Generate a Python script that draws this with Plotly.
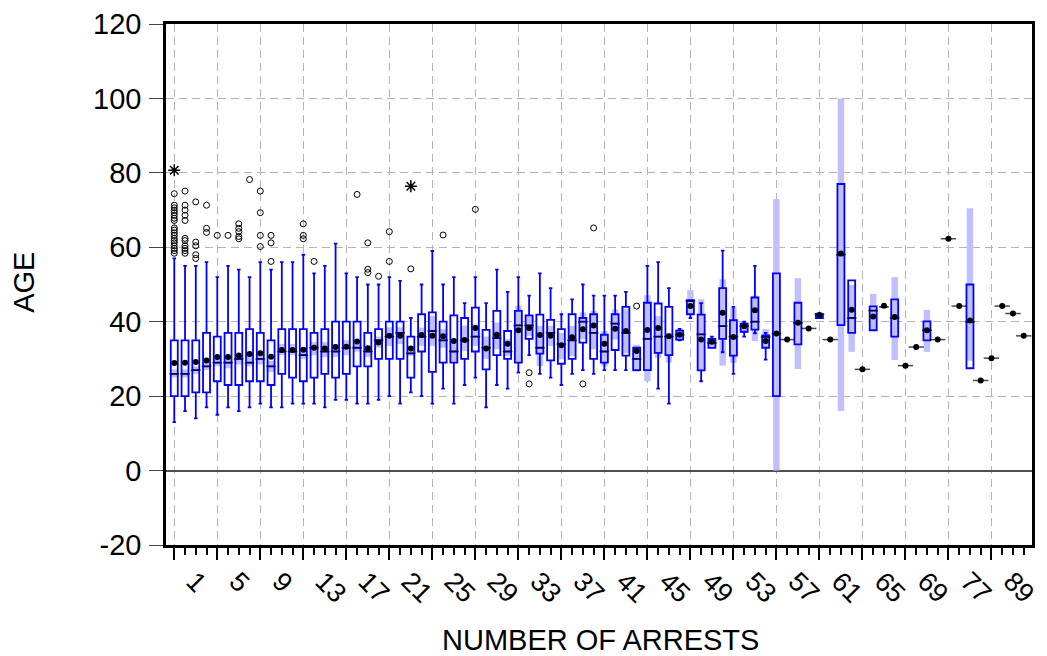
import plotly.graph_objects as go

# ---------------- data ----------------
categories = ["1", "2", "3", "4", "5", "6", "7", "8", "9", "10",
              "11", "12", "13", "14", "15", "16", "17", "18", "19", "20",
              "21", "22", "23", "24", "25", "26", "27", "28", "29", "30",
              "31", "32", "33", "34", "35", "36", "37", "38", "39", "40",
              "41", "42", "43", "44", "45", "46", "47", "48", "49", "50",
              "51", "52", "53", "54", "55", "56", "57", "58", "59", "60",
              "61", "62", "63", "64", "65", "66", "67", "68", "69", "70",
              "71", "73", "77", "78", "80", "84", "89", "90", "92", "98"]

whisker_low = [13, 16, 14, 17, 15, 17, 16, 17, 18, 17,
               17, 18, 18, 18, 17, 19, 19, 18, 18, 19,
               20, 18, 21, 20, 18, 22, 18, 23, 25, 17,
               23, 22, 26.3, 31, 26, 25, 23, 26, 27, 26,
               27, 27, 27, 27, 27, 22, 18, 35, 41, 24,
               33, 31.8, 26, 36, 36.9, 29.8, 20, 35.2, 33.9, 38.2,
               41, 35.2, 39.1, 37, 27.2, 37.7, 44, 36, 28.2, 33.2,
               35, 35.2, 62.3, 44.2, 27.5, 24.2, 30.2, 44.2, 42.2, 36.2]
q1 = [20, 20, 21, 21, 24, 23, 23, 24, 24, 23,
      26, 25, 24, 25, 26, 25, 26, 28, 28, 30,
      30, 30, 25, 32, 26.5, 29, 29, 30, 32, 27.2,
      31, 30, 29, 35.4, 31.4, 29.6, 28.7, 30, 34.4, 30,
      29, 32.4, 30.9, 27, 27, 31.6, 31, 35.2, 42, 26.9,
      33, 35.4, 30.9, 37.3, 37.9, 33, 20, 35.2, 33.9, 38.2,
      41, 35.2, 39.1, 37, 27.2, 37.7, 44, 36, 28.2, 33.2,
      35, 35.2, 62.3, 44.2, 27.5, 24.2, 30.2, 44.2, 42.2, 36.2]
median = [26, 26, 27, 28, 29, 29, 30, 29, 30, 28,
          32, 32, 31, 33, 32, 32, 33, 33, 32, 35,
          36, 37, 31.5, 36, 37.5, 35, 32, 35, 36, 33,
          35.6, 32, 39, 39, 33, 37, 34, 35, 40, 37,
          32, 39.5, 37, 30, 35.4, 36, 36, 36.5, 45.6, 36.6,
          34.3, 38.8, 36, 38.8, 40, 35.9, 36.8, 35.2, 39.7, 38.2,
          42, 35.2, 58, 41, 27.2, 43, 44, 41, 28.2, 33.2,
          37.7, 35.2, 62.3, 44.2, 40, 24.2, 30.2, 44.2, 42.2, 36.2]
q3 = [35, 35, 35, 37, 36, 37, 37, 38, 37, 35,
      38, 38, 38, 37, 38, 40, 40, 40, 37, 38,
      40, 40, 36, 42, 42.5, 40, 41.7, 41, 43.8, 37.8,
      42.9, 37.5, 42.9, 41.7, 41.9, 40.5, 38, 42, 41, 42,
      36.5, 42, 44, 33, 45.1, 44.9, 44, 37.6, 45.8, 41.9,
      35.4, 49, 40.4, 39.5, 46.5, 36.3, 53, 35.2, 45.1, 38.2,
      42, 35.2, 77, 51.1, 27.2, 44.1, 44, 46, 28.2, 33.2,
      40.1, 35.2, 62.3, 44.2, 50, 24.2, 30.2, 44.2, 42.2, 36.2]
whisker_high = [57, 55, 55, 56, 52, 55, 54, 52, 56, 54,
                56, 56, 58, 53, 55, 61, 53, 52, 50, 50,
                52, 51, 41, 50, 59, 50, 52, 45, 52, 45,
                54, 48, 52, 47, 53, 49, 42, 46, 50, 47,
                47, 47, 48, 33, 55, 56, 49, 38.1, 45.8, 45,
                36, 59.1, 44, 40, 55, 37, 53, 35.2, 45.1, 38.2,
                42, 35.2, 77, 51.1, 27.2, 44.1, 44, 46, 28.2, 33.2,
                40.1, 35.2, 62.3, 44.2, 50, 24.2, 30.2, 44.2, 42.2, 36.2]
mean = [28.9, 29.0, 29.2, 29.6, 30.5, 30.5, 30.9, 31.3, 31.5, 30.6,
        32.4, 32.4, 32.5, 33.0, 32.8, 33.2, 33.3, 34.7, 32.9, 34.4,
        36.2, 36.2, 32.8, 36.4, 36.2, 36.1, 34.8, 35.1, 38.3, 32.8,
        36.5, 34.1, 37.7, 38.3, 36.4, 36.2, 33.7, 35.8, 38.0, 39.0,
        34.1, 38.1, 37.5, 32.1, 37.8, 38.3, 36.1, 36.5, 44.2, 35.2,
        34.6, 42.4, 35.9, 38.8, 43.1, 34.8, 36.8, 35.2, 39.7, 38.2,
        41.8, 35.2, 58.3, 43.2, 27.2, 41.4, 44.3, 41.3, 28.2, 33.2,
        37.7, 35.2, 62.3, 44.2, 40.3, 24.2, 30.2, 44.2, 42.2, 36.2]
median_ci_low = [25, 25, 26, 27, 28, 27.5, 28.5, 28, 28.5, 26.5,
                 31, 31, 30, 31, 30.5, 30.5, 31, 32, 30.5, 33,
                 33.5, 34, 30.8, 33.5, 33.5, 33, 29, 32.1, 33.5, 30,
                 32.6, 30.8, 29, 36.2, 28.1, 33.5, 29.9, 30.8, 35.3, 32.6,
                 28, 35.2, 31.5, 26.5, 24, 30.3, 29, 34.9, 42, 27,
                 33.5, 28.2, 28.9, 37, 34.8, 33, 0, 35.2, 27.3, 38.2,
                 40.7, 35.2, 16, 31.9, 27.2, 37.6, 44, 29.7, 28.2, 33.2,
                 31.9, 35.2, 62.3, 44.2, 29.5, 24.2, 30.2, 44.2, 42.2, 36.2]
median_ci_high = [27.2, 27.2, 28, 29, 30, 30.5, 31, 31, 31.5, 29.5,
                  34, 34, 33, 34.5, 34.5, 34, 35, 35, 33.5, 36,
                  38.5, 38.5, 33.5, 38.4, 41.6, 38, 35.3, 39, 39.3, 36,
                  39.8, 35.3, 44.3, 41.6, 38.9, 38.9, 37, 38.9, 42.5, 42.9,
                  37.5, 43.3, 43.5, 33.8, 47.1, 41.5, 37, 38, 48.5, 46,
                  35.8, 51.4, 43.8, 40, 47, 38, 73, 35.2, 51.7, 38.2,
                  42.6, 35.2, 100, 49.9, 27.2, 47.5, 44, 52, 28.2, 33.2,
                  43.2, 35.2, 62.3, 44.2, 70.5, 24.2, 30.2, 44.2, 42.2, 36.2]

near_outlier_cat = ["1"] * 19 + ["2"] * 11 + ["3"] * 5 + ["4"] * 3 + ["5", "6"] + ["7"] * 5 + ["8"] + \
                   ["9"] * 4 + ["10"] * 3 + ["13"] * 3 + ["14", "18"] + ["19"] * 3 + ["20", "21", "21", "23", "26", "29",
                   "34", "34", "39", "40", "44"]
near_outlier_age = [58.4, 59.1, 59.7, 60.4, 61.2, 61.8, 62.4, 63.2, 63.9, 64.6,
                    65.2, 67.2, 67.8, 68.6, 69.3, 69.9, 70.6, 71.3, 74.4,
                    58.4, 59.1, 59.7, 60.4, 61.8, 62.4, 67.2, 68.6, 70.0, 71.3, 75.1,
                    57.0, 58.0, 60.4, 61.4, 72.2,
                    64.0, 65.1, 71.3,
                    63.2, 63.2,
                    62.3, 62.9, 64.2, 65.1, 66.3,
                    78.2,
                    60.2, 63.2, 69.3, 75.1,
                    56.2, 61.2, 63.2,
                    62.3, 63.2, 66.3,
                    56.2, 74.2,
                    53.2, 54.1, 61.2,
                    52.2, 56.2, 64.2, 54.2, 63.3, 70.2,
                    26.3, 23.3, 23.3, 65.2, 44.2]
far_outlier_cat = ["1", "23"]
far_outlier_age = [80.7, 76.4]

y_tickvals = [-20, 0, 20, 40, 60, 80, 100, 120]
y_ticktext = ["-20", "0", "20", "40", "60", "80", "100", "120"]
tick_every = 4

# ---------------- derived positions ----------------
pos = list(range(len(categories)))
is_box = [not (whisker_low[i] == whisker_high[i] == q1[i] == q3[i] and mean[i] == median[i]) for i in pos]
box_pos = [i for i in pos if is_box[i]]
ci_pos = [i for i in pos if median_ci_high[i] > median_ci_low[i]]

BLUE = "#0000FF"
BAND = "#C0C0FF"
BOX_W = 0.65
FONT = "Liberation Sans, Arial, sans-serif"

fig = go.Figure()

# white box interior
fig.add_trace(go.Bar(
    x=box_pos, base=[q1[i] for i in box_pos], y=[q3[i] - q1[i] for i in box_pos],
    width=BOX_W, marker=dict(color="white", line=dict(width=0)), hoverinfo="skip",
    showlegend=False))
# median confidence band
fig.add_trace(go.Bar(
    x=ci_pos, base=[median_ci_low[i] for i in ci_pos],
    y=[median_ci_high[i] - median_ci_low[i] for i in ci_pos],
    width=0.6, marker=dict(color=BAND, line=dict(width=0)), hoverinfo="skip",
    showlegend=False))
# boxes + whiskers
fig.add_trace(go.Box(
    x=box_pos,
    q1=[q1[i] for i in box_pos], median=[median[i] for i in box_pos], q3=[q3[i] for i in box_pos],
    lowerfence=[whisker_low[i] for i in box_pos], upperfence=[whisker_high[i] for i in box_pos],
    width=BOX_W, whiskerwidth=0.5, fillcolor="rgba(0,0,0,0)",
    line=dict(color=BLUE, width=1.8), boxpoints=False, showlegend=False, hoverinfo="skip"))
# medians (black)
fig.add_trace(go.Scatter(
    x=pos, y=median, mode="markers",
    marker=dict(symbol="line-ew", size=[7 if b else 11 for b in is_box],
                line=dict(color="black", width=1.5)),
    showlegend=False, hoverinfo="skip"))
# means
fig.add_trace(go.Scatter(
    x=pos, y=mean, mode="markers",
    marker=dict(symbol="circle", size=6, color="black"),
    showlegend=False, hoverinfo="skip"))
# near outliers
fig.add_trace(go.Scatter(
    x=[categories.index(c) for c in near_outlier_cat], y=near_outlier_age, mode="markers",
    marker=dict(symbol="circle-open", size=6, color="black", line=dict(width=1)),
    showlegend=False, hoverinfo="skip"))
# far outliers
fig.add_trace(go.Scatter(
    x=[categories.index(c) for c in far_outlier_cat], y=far_outlier_age, mode="markers",
    marker=dict(symbol="asterisk-open", size=10, color="black", line=dict(width=1.5, color="black")),
    showlegend=False, hoverinfo="skip"))

tickvals = pos[::tick_every]
ticktext = [categories[i] for i in tickvals]

fig.update_layout(
    width=1047, height=656,
    margin=dict(l=166, r=7, t=24, b=111),
    paper_bgcolor="white", plot_bgcolor="white",
    barmode="overlay",
    font=dict(family=FONT, color="black"),
    xaxis=dict(
        range=[-0.77, len(categories) - 1 + 0.77],
        tickmode="array", tickvals=tickvals, ticktext=ticktext,
        tickangle=45, tickfont=dict(size=27, family=FONT, color="black"),
        ticklabelshift=20, ticklabelstandoff=-5,
        ticks="outside", ticklen=12, tickwidth=2, tickcolor="black",
        minor=dict(dtick=1, tick0=0, ticks="outside", ticklen=7, tickwidth=1.5,
                   tickcolor="black", showgrid=False),
        showgrid=True, gridcolor="#B4B4B4", gridwidth=1, griddash="8px,5px",
        showline=True, linecolor="black", linewidth=2.5, mirror=True,
        zeroline=False,
    ),
    yaxis=dict(
        range=[-20, 120], tickmode="array", tickvals=y_tickvals, ticktext=y_ticktext,
        tickfont=dict(size=29, family=FONT, color="black"),
        ticklabelstandoff=2,
        ticks="outside", ticklen=14, tickwidth=1, tickcolor="#444",
        showgrid=True, gridcolor="#B4B4B4", gridwidth=1, griddash="8px,5px",
        zeroline=True, zerolinecolor="#505050", zerolinewidth=1.5,
        showline=True, linecolor="black", linewidth=2.5, mirror=True,
    ),
    annotations=[
        dict(text="AGE", xref="paper", yref="paper", x=(23 - 166) / 874, y=(545 - 283) / 520,
             xanchor="center", yanchor="middle", textangle=-90, showarrow=False,
             font=dict(size=29, family=FONT, color="black")),
        dict(text="NUMBER OF ARRESTS", xref="paper", yref="paper", x=0.502, y=(545 - 640) / 520,
             xanchor="center", yanchor="middle", showarrow=False,
             font=dict(size=29, family=FONT, color="black")),
    ],
)

fig.write_html("out.html")
